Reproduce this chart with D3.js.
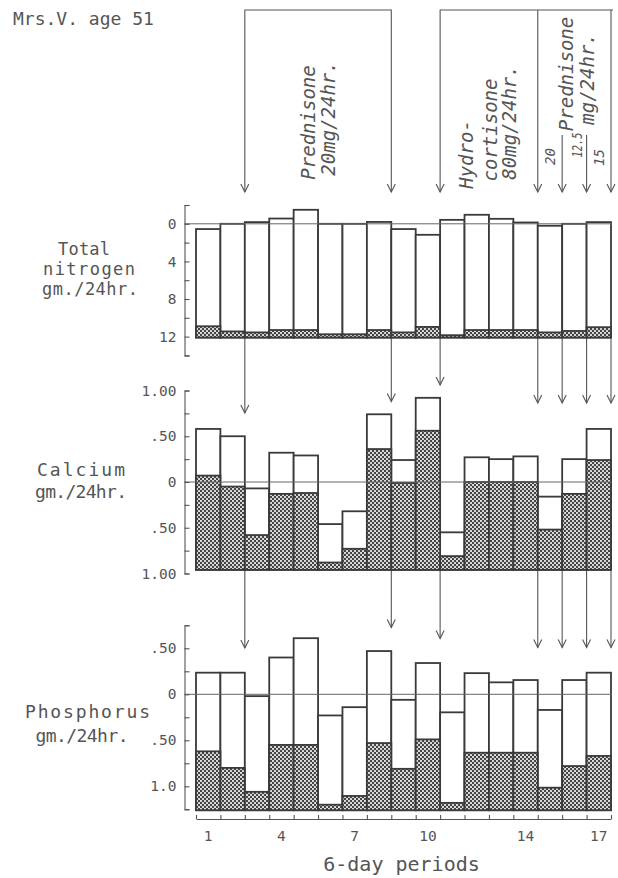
<!DOCTYPE html>
<html>
<head>
<meta charset="utf-8">
<script src="https://cdn.jsdelivr.net/npm/d3@7"></script>
<style>
  html, body { margin: 0; padding: 0; background: #fff; }
  svg { display: block; }
  text { font-family: "DejaVu Sans Mono", monospace; fill: #555; }
</style>
</head>
<body>
<svg id="chart" width="618" height="878"></svg>
<script>
// ---- balance data, one value per 6-day period ----
const periods = [1, 2, 3, 4, 5, 6, 7, 8, 9, 10, 11, 12, 13, 14, 15, 16, 17];
const labeledPeriods = [1, 4, 7, 10, 14, 17];

// Nitrogen, gm./24hr.
const nitrogenIntake = [12.1, 12.1, 12.1, 12.1, 12.1, 12.1, 12.1, 12.1, 12.1, 12.1, 12.1, 12.1, 12.1, 12.1, 12.1, 12.1, 12.1];
const nitrogenFecal  = [1.2, 0.65, 0.55, 0.8, 0.8, 0.35, 0.35, 0.8, 0.55, 1.13, 0.25, 0.8, 0.8, 0.8, 0.55, 0.7, 1.1];
const nitrogenUrine  = [10.34, 11.45, 11.73, 11.86, 12.79, 11.75, 11.75, 11.5, 10.99, 9.8, 12.27, 12.26, 11.83, 11.44, 11.34, 11.4, 11.18];

// Calcium, gm./24hr.
const calciumIntake = [0.96, 0.96, 0.96, 0.96, 0.96, 0.96, 0.96, 0.96, 0.96, 0.96, 0.96, 0.96, 0.96, 0.96, 0.96, 0.96, 0.96];
const calciumFecal  = [1.03, 0.91, 0.38, 0.83, 0.84, 0.08, 0.23, 1.32, 0.95, 1.52, 0.15, 0.96, 0.96, 0.96, 0.44, 0.83, 1.2];
const calciumUrine  = [0.51, 0.55, 0.51, 0.45, 0.41, 0.42, 0.41, 0.38, 0.25, 0.36, 0.26, 0.27, 0.25, 0.28, 0.36, 0.38, 0.34];

// Phosphorus, gm./24hr.
const phosphorusIntake = [1.26, 1.26, 1.26, 1.26, 1.26, 1.26, 1.26, 1.26, 1.26, 1.26, 1.26, 1.26, 1.26, 1.26, 1.26, 1.26, 1.26];
const phosphorusFecal  = [0.64, 0.46, 0.2, 0.71, 0.71, 0.06, 0.155, 0.73, 0.45, 0.77, 0.08, 0.625, 0.625, 0.625, 0.245, 0.48, 0.59];
const phosphorusUrine  = [0.855, 1.035, 1.04, 0.95, 1.16, 0.97, 0.965, 1.0, 0.75, 0.83, 0.984, 0.865, 0.765, 0.79, 0.845, 0.935, 0.905];

// Axis ticks and their printed labels
const nitrogenTicks = [-2, 0, 2, 4, 6, 8, 10, 12, 14];
const nitrogenTickValues = [0, 4, 8, 12];
const nitrogenTickLabels = ["0", "4", "8", "12"];
const calciumTicks = [-1, -0.75, -0.5, -0.25, 0, 0.25, 0.5, 0.75, 1];
const calciumTickValues = [1, 0.5, 0, -0.5, -1];
const calciumTickLabels = ["1.00", ".50", "0", ".50", "1.00"];
const phosphorusTicks = [-1.25, -1, -0.75, -0.5, -0.25, 0, 0.25, 0.5, 0.75];
const phosphorusTickValues = [0.5, 0, -0.5, -1];
const phosphorusTickLabels = [".50", "0", ".50", "1.0"];

// Treatment periods: boundaries are counted in periods from the start
const arrowBoundaries = [2, 8, 10, 14, 15, 16, 17];
const treatmentLabels = [
  ["Prednisone", "20mg/24hr."],
  ["Hydro-", "cortisone", "80mg/24hr."],
  ["Prednisone", "mg/24hr."]
];
const doseSteps = ["20", "12.5", "15"];

// ---- drawing ----
const svg = d3.select("#chart");
const ink = "#3a3a3a";
const thin = "#555";

const defs = svg.append("defs");
const pat = defs.append("pattern")
  .attr("id", "xhatch").attr("patternUnits", "userSpaceOnUse")
  .attr("width", 4).attr("height", 4);
pat.append("rect").attr("width", 4).attr("height", 4).attr("fill", "#444");
pat.append("circle").attr("cx", 1).attr("cy", 1).attr("r", 1.02).attr("fill", "#fff");
pat.append("circle").attr("cx", 3).attr("cy", 3).attr("r", 1.02).attr("fill", "#fff");

const x = d3.scaleBand().domain(periods).range([196, 611]).padding(0);
const xb = d3.scaleLinear().domain([0, periods.length]).range([196, 611]);
const axisX = 184.5;

// dir = -1: intake plotted at +intake and outputs stacked toward smaller values
const panels = [
  { name: "nitrogen", dir: -1,
    y: d3.scaleLinear().domain([-2, 14]).range([205, 355.4]),
    intake: nitrogenIntake, fecal: nitrogenFecal, urine: nitrogenUrine,
    ticks: nitrogenTicks, tickValues: nitrogenTickValues, tickLabels: nitrogenTickLabels,
    arrowTip: { default: 192 } },
  { name: "calcium", dir: 1,
    y: d3.scaleLinear().domain([-1, 1]).range([573.5, 390.5]),
    intake: calciumIntake, fecal: calciumFecal, urine: calciumUrine,
    ticks: calciumTicks, tickValues: calciumTickValues, tickLabels: calciumTickLabels,
    arrowTip: { 2: 413, 8: 401.5, 10: 385, default: 403 } },
  { name: "phosphorus", dir: 1,
    y: d3.scaleLinear().domain([-1.25, 0.75]).range([809.3, 625.3]),
    intake: phosphorusIntake, fecal: phosphorusFecal, urine: phosphorusUrine,
    ticks: phosphorusTicks, tickValues: phosphorusTickValues, tickLabels: phosphorusTickLabels,
    arrowTip: { 2: 648, 8: 627.5, 10: 638.5, default: 647.5 } }
];

function arrowHead(g, xx, tip) {
  g.append("path")
    .attr("d", `M${xx - 4},${tip - 8} L${xx},${tip} L${xx + 4},${tip - 8}`)
    .attr("fill", "none").attr("stroke", thin).attr("stroke-width", 1.1);
}

const gArrows = svg.append("g");

panels.forEach((p, pi) => {
  const g = svg.append("g").attr("class", p.name);
  const rows = periods.map((d, i) => {
    const base = -p.dir * p.intake[i];
    const fecalTop = base + p.dir * p.fecal[i];
    const top = fecalTop + p.dir * p.urine[i];
    return { period: d, base, fecalTop, top };
  });
  const rectY = (a, b) => Math.min(p.y(a), p.y(b));
  const rectH = (a, b) => Math.abs(p.y(a) - p.y(b));

  // whole output bar
  g.selectAll("rect.total").data(rows).join("rect")
    .attr("class", "total")
    .attr("x", d => x(d.period)).attr("width", x.bandwidth())
    .attr("y", d => rectY(d.base, d.top)).attr("height", d => rectH(d.base, d.top))
    .attr("fill", "#fff").attr("stroke", ink).attr("stroke-width", 1.8);
  // fecal part, cross-hatched
  g.selectAll("rect.fecal").data(rows).join("rect")
    .attr("class", "fecal")
    .attr("x", d => x(d.period)).attr("width", x.bandwidth())
    .attr("y", d => rectY(d.base, d.fecalTop)).attr("height", d => rectH(d.base, d.fecalTop))
    .attr("fill", "url(#xhatch)").attr("stroke", ink).attr("stroke-width", 1.8);

  // zero line
  g.append("line")
    .attr("x1", axisX).attr("x2", 611.5)
    .attr("y1", p.y(0)).attr("y2", p.y(0))
    .attr("stroke", "#666").attr("stroke-width", 1);

  // y axis, bracket style with ticks pointing into the plot
  const labelOf = new Map(p.tickValues.map((v, i) => [v, p.tickLabels[i]]));
  const ax = d3.axisLeft(p.y)
    .tickValues(p.ticks)
    .tickSizeInner(-5).tickSizeOuter(-5).tickPadding(8)
    .tickFormat(v => labelOf.has(v) ? labelOf.get(v) : "");
  const ga = svg.append("g").attr("transform", `translate(${axisX},0)`).call(ax);
  ga.selectAll("path, line").attr("stroke", thin).attr("stroke-width", 1.1);
  ga.selectAll("text").attr("font-size", 14.5).attr("fill", "#555")
    .attr("font-family", "DejaVu Sans Mono, monospace");

  // treatment arrows from the panel above down into this one
  const startY = pi === 0 ? null : panels[pi - 1].y(-panels[pi - 1].dir * panels[pi - 1].intake[0]);
  arrowBoundaries.forEach(b => {
    const xx = xb(b);
    const tip = p.arrowTip[b] !== undefined ? p.arrowTip[b] : p.arrowTip.default;
    if (startY !== null) {
      gArrows.append("line").attr("x1", xx).attr("x2", xx)
        .attr("y1", startY + 1).attr("y2", tip)
        .attr("stroke", thin).attr("stroke-width", 1.1);
    }
    arrowHead(gArrows, xx, tip);
  });
});

// ---- treatment brackets at the top ----
const topY = 10, tipY = 192, shortStart = 135;
const gTop = svg.append("g").attr("fill", "none").attr("stroke", thin).attr("stroke-width", 1.1);
gTop.append("path").attr("d", `M${xb(2)},${tipY} V${topY} H${xb(8)} V${tipY}`);
gTop.append("path").attr("d", `M${xb(10)},${tipY} V${topY} H613`);
gTop.append("line").attr("x1", xb(14)).attr("x2", xb(14)).attr("y1", topY).attr("y2", tipY);
gTop.append("line").attr("x1", xb(17)).attr("x2", xb(17)).attr("y1", topY).attr("y2", tipY);
gTop.append("line").attr("x1", xb(15)).attr("x2", xb(15)).attr("y1", shortStart).attr("y2", tipY);
gTop.append("line").attr("x1", xb(16)).attr("x2", xb(16)).attr("y1", shortStart).attr("y2", tipY);

// rotated treatment labels
const treatmentPos = [
  [[315, 122.5], [335, 118.5]],
  [[473, 154.5], [497, 130], [516, 122.5]],
  [[573, 74], [594, 79]]
];
treatmentLabels.forEach((lines, gi) => {
  lines.forEach((t, li) => {
    const [tx, ty] = treatmentPos[gi][li];
    svg.append("text")
      .attr("transform", `translate(${tx},${ty}) rotate(-90)`)
      .attr("text-anchor", "middle")
      .attr("font-size", 19).attr("font-style", "italic")
      .text(t);
  });
});
const dosePos = [[555, 156.5], [582, 145], [604, 157.5]];
const doseLen = [17, 25, 17];
doseSteps.forEach((t, i) => {
  svg.append("text")
    .attr("transform", `translate(${dosePos[i][0]},${dosePos[i][1]}) rotate(-90)`)
    .attr("text-anchor", "middle")
    .attr("font-size", 14).attr("font-style", "italic")
    .attr("textLength", doseLen[i]).attr("lengthAdjust", "spacingAndGlyphs")
    .text(t);
});

// ---- x axis ----
const xTicks = d3.axisBottom(xb).tickValues(d3.range(0, periods.length + 1))
  .tickSizeInner(-4).tickSizeOuter(0).tickFormat("");
const gx = svg.append("g").attr("transform", "translate(0,819)").call(xTicks);
gx.selectAll("path, line").attr("stroke", thin).attr("stroke-width", 1.1);

const xLabels = d3.axisBottom(x).tickValues(labeledPeriods).tickSize(0).tickPadding(12);
const gxl = svg.append("g").attr("transform", "translate(0,819)").call(xLabels);
gxl.select(".domain").remove();
gxl.selectAll("text").attr("font-size", 14.5).attr("fill", "#555")
  .attr("font-family", "DejaVu Sans Mono, monospace");

svg.append("text").attr("x", 401.5).attr("y", 871)
  .attr("text-anchor", "middle").attr("font-size", 20).text("6-day periods");

// ---- panel titles ----
svg.append("text").attr("x", 13).attr("y", 25).attr("font-size", 18).text("Mrs.V. age 51");

const titles = [
  ["Total", 84, 255, 17, 52], ["nitrogen", 89, 275, 17, 92], ["gm./24hr.", 90, 295, 17, 96],
  ["Calcium", 81, 476, 18, 88], ["gm./24hr.", 81, 498, 18, 92],
  ["Phosphorus", 87.5, 717.5, 18, 125], ["gm./24hr.", 82, 741.5, 18, 93]
];
titles.forEach(([t, tx, ty, fs, len]) => {
  svg.append("text").attr("x", tx).attr("y", ty)
    .attr("text-anchor", "middle").attr("font-size", fs)
    .attr("textLength", len).attr("lengthAdjust", "spacing")
    .text(t);
});
</script>
</body>
</html>
